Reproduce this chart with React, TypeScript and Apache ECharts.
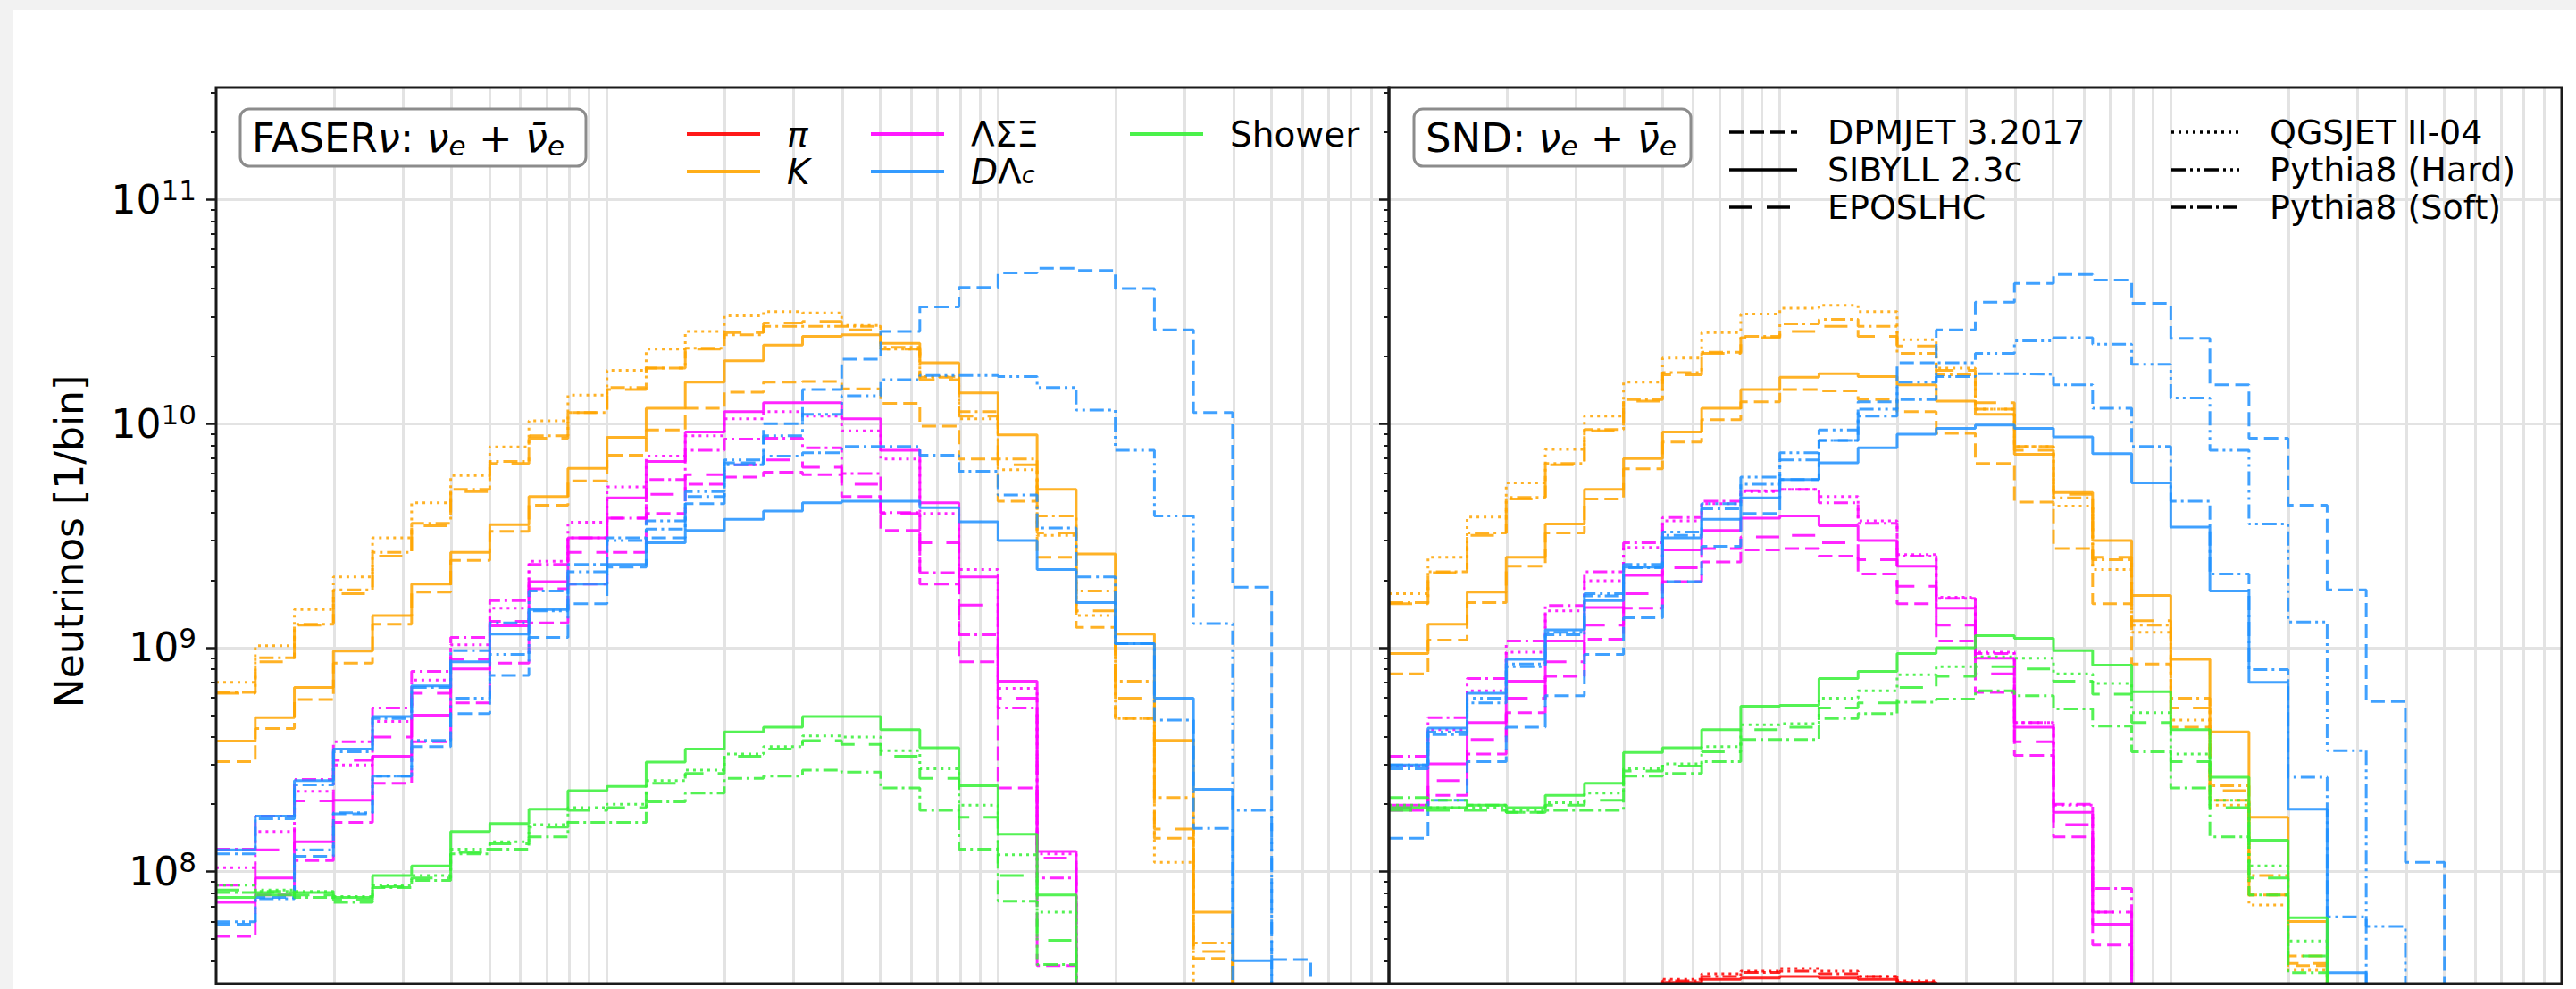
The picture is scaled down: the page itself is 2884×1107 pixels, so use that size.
import React, { useEffect, useRef } from 'react';
import * as echarts from 'echarts';

const W = 2884;
const H = 1107;
const FONT = "'DejaVu Sans', 'Liberation Sans', sans-serif";

// frame geometry (px)
const FRAME_TOP = 98;
const FRAME_H = 1003;
const FRAME_W = 1313;
const LEFT_X = 242;
const RIGHT_X = 1555;

// energy bin edges [GeV], 10 bins per decade
const BIN_EDGES = [10, 12.59, 15.85, 19.95, 25.12, 31.62, 39.81, 50.12, 63.1, 79.43,
  100, 125.9, 158.5, 199.5, 251.2, 316.2, 398.1, 501.2, 631, 794.3,
  1000, 1259, 1585, 1995, 2512, 3162, 3981, 5012, 6310, 7943, 10000];
const N_BINS = 30;

const X_MIN = 10;
const X_MAX = 10000;
const Y_MIN = 3.1623e7;
const Y_MAX = 3.1623e11;

const X_GRID_VALUES = [20, 30, 40, 50, 60, 70, 80, 90, 100, 200, 300, 400, 500, 600, 700, 800, 900,
  1000, 2000, 3000, 4000, 5000, 6000, 7000, 8000, 9000];
const Y_MAJOR_TICKS = [1e8, 1e9, 1e10, 1e11];
const Y_MINOR_TICKS = [4e7, 5e7, 6e7, 7e7, 8e7, 9e7, 2e8, 3e8, 4e8, 5e8, 6e8, 7e8, 8e8, 9e8,
  2e9, 3e9, 4e9, 5e9, 6e9, 7e9, 8e9, 9e9, 2e10, 3e10, 4e10, 5e10, 6e10, 7e10, 8e10, 9e10, 2e11, 3e11];

// ---------------- FASERnu : nu_e + nubar_e ----------------
const FASER_K_DPMJET = [3.1e8, 4.35e8, 5.86e8, 8.53e8, 1.27e9, 1.77e9, 2.45e9, 3.3e9, 4.32e9, 5.55e9, 7.23e9, 9.37e9, 1.17e10, 1.38e10, 1.53e10, 1.54e10, 1.43e10, 1.23e10, 9.75e9, 6.95e9, 4.5e9, 2.53e9, 1.23e9, 4.82e8, 1.41e8, 4.1e7];
const FASER_K_SIBYLL = [3.83e8, 4.87e8, 6.64e8, 9.66e8, 1.39e9, 1.92e9, 2.66e9, 3.54e9, 4.73e9, 6.31e9, 8.69e9, 1.17e10, 1.53e10, 1.91e10, 2.24e10, 2.45e10, 2.49e10, 2.28e10, 1.87e10, 1.37e10, 8.91e9, 5.09e9, 2.62e9, 1.15e9, 3.85e8, 6.6e7];
const FASER_K_EPOS = [6.25e8, 8.65e8, 1.26e9, 1.74e9, 2.56e9, 3.5e9, 4.97e9, 6.64e9, 8.6e9, 1.12e10, 1.42e10, 1.77e10, 2.15e10, 2.55e10, 2.81e10, 2.86e10, 2.62e10, 2.15e10, 1.57e10, 1.08e10, 6.54e9, 3.25e9, 1.46e9, 5.95e8, 1.55e8, 4.4e7];
const FASER_K_QGSJET = [7.0e8, 1.02e9, 1.48e9, 2.07e9, 3.09e9, 4.43e9, 5.86e9, 7.87e9, 1.03e10, 1.34e10, 1.73e10, 2.15e10, 2.58e10, 3.03e10, 3.16e10, 3.12e10, 2.74e10, 2.15e10, 1.62e10, 1.05e10, 6.22e9, 3.17e9, 1.39e9, 4.82e8, 1.1e8];
const FASER_K_PYSOFT = [6.31e8, 9.0e8, 1.27e9, 1.81e9, 2.66e9, 3.59e9, 5.09e9, 6.78e9, 8.83e9, 1.12e10, 1.45e10, 1.77e10, 2.17e10, 2.49e10, 2.72e10, 2.72e10, 2.72e10, 2.19e10, 1.61e10, 1.13e10, 6.95e9, 3.87e9, 1.79e9, 7.08e8, 2.14e8, 4.8e7];

const FASER_L_DPMJET = [5.14e7, 7.87e7, 1.12e8, 1.66e8, 2.48e8, 3.8e8, 5.66e8, 8.53e8, 1.29e9, 1.92e9, 2.66e9, 3.97e9, 5.36e9, 5.77e9, 6.07e9, 5.92e9, 4.73e9, 3.33e9, 1.92e9, 8.65e8, 2.36e8, 3.81e7];
const FASER_L_SIBYLL = [7.3e7, 9.37e7, 1.36e8, 2.08e8, 3.27e8, 4.99e8, 8.03e8, 1.25e9, 1.97e9, 3.09e9, 4.66e9, 6.78e9, 9.18e9, 1.13e10, 1.24e10, 1.24e10, 1.05e10, 7.6e9, 4.43e9, 2.07e9, 7.08e8, 1.23e8];
const FASER_L_EPOS = [8.7e7, 1.25e8, 2.07e8, 3.14e8, 3.99e8, 6.25e8, 8.87e8, 1.31e9, 1.83e9, 2.66e9, 3.78e9, 4.84e9, 5.92e9, 6.54e9, 6.88e9, 6.38e9, 5.36e9, 3.97e9, 2.94e9, 1.55e9, 5.95e8, 1.15e8];
const FASER_L_QGSJET = [1.04e8, 1.51e8, 2.28e8, 2.99e8, 4.68e8, 7.16e8, 1.03e9, 1.5e9, 2.43e9, 3.63e9, 5.22e9, 7.16e9, 8.83e9, 1.05e10, 1.13e10, 1.08e10, 9.28e9, 6.95e9, 3.97e9, 2.23e9, 6.58e8, 1.2e8];
const FASER_L_PYSOFT = [1.26e8, 1.77e8, 2.58e8, 3.8e8, 5.38e8, 7.83e8, 1.11e9, 1.62e9, 2.35e9, 3.09e9, 3.78e9, 5.63e9, 7.6e9, 8.53e9, 8.6e9, 7.8e9, 5.98e9, 4.01e9, 2.16e9, 1.14e9, 5.38e8, 9.37e7];

const FASER_D_DPMJET = [5.83e7, 7.67e7, 1.17e8, 1.81e8, 2.67e8, 3.61e8, 5.07e8, 7.52e8, 1.11e9, 1.57e9, 2.29e9, 3.09e9, 4.39e9, 6.68e9, 1.0e10, 1.42e10, 1.94e10, 2.58e10, 3.32e10, 4.05e10, 4.7e10, 4.94e10, 4.82e10, 4.01e10, 2.62e10, 1.12e10, 1.86e9, 4.05e7];
const FASER_D_SIBYLL = [1.25e8, 1.77e8, 2.55e8, 3.52e8, 4.92e8, 6.75e8, 8.65e8, 1.15e9, 1.48e9, 1.92e9, 2.35e9, 2.94e9, 3.33e9, 3.74e9, 4.07e9, 4.43e9, 4.5e9, 4.5e9, 4.21e9, 3.65e9, 3.01e9, 2.23e9, 1.59e9, 1.04e9, 5.95e8, 2.33e8, 4.01e7];
const FASER_D_PYHARD = [5.97e7, 7.56e7, 1.25e8, 1.83e8, 2.67e8, 3.85e8, 5.95e8, 9.33e8, 1.46e9, 2.18e9, 3.01e9, 3.68e9, 4.97e9, 6.88e9, 8.83e9, 1.1e10, 1.33e10, 1.57e10, 1.64e10, 1.64e10, 1.62e10, 1.45e10, 1.15e10, 7.6e9, 3.87e9, 1.28e9, 1.88e8];
const FASER_D_PYSOFT = [1.2e8, 1.72e8, 2.44e8, 3.43e8, 4.82e8, 6.64e8, 9.7e8, 1.29e9, 1.79e9, 2.35e9, 3.09e9, 3.38e9, 4.73e9, 6.54e9, 7.16e9, 7.41e9, 7.9e9, 7.9e9, 7.23e9, 6.13e9, 4.8e9, 3.42e9, 2.07e9, 1.04e9, 4.75e8, 1.56e8];

const FASER_S_SIBYLL = [7.67e7, 7.87e7, 8.07e7, 7.67e7, 9.6e7, 1.06e8, 1.51e8, 1.64e8, 1.9e8, 2.3e8, 2.4e8, 3.08e8, 3.52e8, 4.2e8, 4.41e8, 4.92e8, 4.92e8, 4.3e8, 3.57e8, 2.42e8, 1.47e8, 7.87e7];
const FASER_S_QGSJET = [8.7e7, 8.28e7, 8.16e7, 7.75e7, 8.7e7, 9.6e7, 1.26e8, 1.36e8, 1.62e8, 1.93e8, 2.0e8, 2.55e8, 2.84e8, 3.35e8, 3.61e8, 4.03e8, 3.99e8, 3.47e8, 2.88e8, 1.98e8, 1.19e8, 6.6e7];
const FASER_S_EPOS = [8.28e7, 8.07e7, 7.87e7, 7.48e7, 8.57e7, 9.37e7, 1.22e8, 1.33e8, 1.58e8, 1.88e8, 1.93e8, 2.48e8, 2.74e8, 3.27e8, 3.52e8, 3.84e8, 3.7e8, 3.27e8, 2.61e8, 1.75e8, 9.6e7, 4.94e7];
const FASER_S_PYSOFT = [8.07e7, 8.16e7, 7.67e7, 7.3e7, 8.48e7, 9.14e7, 1.2e8, 1.26e8, 1.43e8, 1.66e8, 1.66e8, 2.05e8, 2.24e8, 2.61e8, 2.67e8, 2.84e8, 2.78e8, 2.36e8, 1.88e8, 1.26e8, 7.38e7, 3.85e7];

// ---------------- SND : nu_e + nubar_e ----------------
const SND_PI_SIBYLL = [null, null, null, null, null, null, null, 3.2e7, 3.3e7, 3.35e7, 3.4e7, 3.35e7, 3.3e7, 3.2e7];
const SND_PI_QGSJET = [null, null, null, null, null, null, null, 3.3e7, 3.5e7, 3.6e7, 3.7e7, 3.6e7, 3.4e7, 3.25e7];
const SND_PI_PYSOFT = [null, null, null, null, null, null, null, 3.25e7, 3.4e7, 3.55e7, 3.6e7, 3.5e7, 3.4e7, 3.2e7];

const SND_K_DPMJET = [7.64e8, 1.08e9, 1.59e9, 2.31e9, 3.25e9, 4.61e9, 6.28e9, 8.28e9, 1.04e10, 1.25e10, 1.42e10, 1.4e10, 1.28e10, 1.13e10, 9.06e9, 6.64e9, 4.46e9, 2.77e9, 1.57e9, 8.44e8, 4.41e8, 2.08e8, 7.87e7, 3.81e7];
const SND_K_SIBYLL = [9.42e8, 1.27e9, 1.77e9, 2.53e9, 3.56e9, 5.09e9, 6.98e9, 9.18e9, 1.17e10, 1.42e10, 1.61e10, 1.67e10, 1.62e10, 1.49e10, 1.26e10, 1.1e10, 7.3e9, 4.92e9, 3.01e9, 1.71e9, 8.87e8, 4.2e8, 1.75e8, 5.98e7];
const SND_K_EPOS = [1.57e9, 2.16e9, 3.17e9, 4.61e9, 6.54e9, 9.28e9, 1.26e10, 1.65e10, 2.06e10, 2.42e10, 2.58e10, 2.72e10, 2.45e10, 2.22e10, 1.73e10, 1.24e10, 7.6e9, 4.84e9, 2.53e9, 1.32e9, 5.38e8, 2.3e8, 7.87e7, 3.9e7];
const SND_K_QGSJET = [1.74e9, 2.53e9, 3.83e9, 5.44e9, 7.67e9, 1.08e10, 1.53e10, 1.96e10, 2.55e10, 3.08e10, 3.27e10, 3.37e10, 3.16e10, 2.37e10, 1.77e10, 1.16e10, 7.91e9, 4.28e9, 2.23e9, 1.17e9, 4.75e8, 1.98e8, 7.1e7, 3.63e7];
const SND_K_PYSOFT = [1.59e9, 2.18e9, 3.25e9, 4.68e9, 6.64e9, 9.42e9, 1.28e10, 1.69e10, 2.08e10, 2.45e10, 2.79e10, 2.92e10, 2.72e10, 2.06e10, 1.65e10, 1.16e10, 7.9e9, 4.66e9, 2.47e9, 1.26e9, 5.95e8, 2.42e8, 9.6e7, 4.2e7];

const SND_L_DPMJET = [1.88e8, 2.19e8, 3.35e8, 5.12e8, 7.45e8, 1.09e9, 1.5e9, 1.97e9, 2.41e9, 2.73e9, 2.77e9, 2.56e9, 2.13e9, 1.57e9, 1.07e9, 6.31e8, 3.3e8, 1.43e8, 4.7e7];
const SND_L_SIBYLL = [1.98e8, 3.03e8, 4.63e8, 7.08e8, 1.07e9, 1.51e9, 2.1e9, 2.73e9, 3.33e9, 3.78e9, 3.87e9, 3.5e9, 3.01e9, 2.31e9, 1.5e9, 8.96e8, 4.41e8, 1.84e8, 5.83e7];
const SND_L_EPOS = [1.93e8, 2.55e8, 3.89e8, 5.95e8, 8.65e8, 1.26e9, 1.74e9, 2.27e9, 2.77e9, 3.12e9, 3.17e9, 2.94e9, 2.47e9, 1.88e9, 1.26e9, 7.64e8, 3.8e8, 1.62e8, 6.6e7];
const SND_L_QGSJET = [2.96e8, 4.3e8, 6.41e8, 9.55e8, 1.46e9, 1.99e9, 2.8e9, 3.68e9, 4.39e9, 4.97e9, 5.09e9, 4.73e9, 3.68e9, 2.6e9, 1.68e9, 9.55e8, 4.63e8, 1.98e8, 6.6e7];
const SND_L_PYSOFT = [3.27e8, 4.87e8, 7.27e8, 1.07e9, 1.54e9, 2.18e9, 2.94e9, 3.81e9, 4.5e9, 5.02e9, 5.09e9, 4.43e9, 3.59e9, 2.56e9, 1.66e9, 9.42e8, 4.63e8, 2.0e8, 8.4e7];

const SND_D_DPMJET = [1.41e8, 2.08e8, 3.1e8, 4.41e8, 6.1e8, 9.33e8, 1.36e9, 1.97e9, 2.83e9, 3.97e9, 5.63e9, 8.4e9, 1.25e10, 1.87e10, 2.62e10, 3.48e10, 4.22e10, 4.63e10, 4.37e10, 3.44e10, 2.4e10, 1.49e10, 8.6e9, 4.32e9, 1.81e9, 5.74e8, 1.1e8];
const SND_D_SIBYLL = [2.99e8, 4.37e8, 6.25e8, 8.87e8, 1.2e9, 1.62e9, 2.29e9, 3.09e9, 3.74e9, 4.66e9, 5.63e9, 6.68e9, 7.8e9, 8.96e9, 9.51e9, 9.85e9, 9.51e9, 8.73e9, 7.34e9, 5.44e9, 3.45e9, 1.79e9, 7.0e8, 1.9e8, 3.54e7];
const SND_D_PYHARD = [2.99e8, 4.2e8, 5.95e8, 8.44e8, 1.17e9, 1.74e9, 2.35e9, 3.28e9, 4.39e9, 5.77e9, 7.41e9, 9.37e9, 1.16e10, 1.53e10, 1.87e10, 2.06e10, 2.34e10, 2.42e10, 2.26e10, 1.84e10, 1.3e10, 7.6e9, 3.56e9, 1.3e9, 3.47e8, 5.69e7];
const SND_D_PYSOFT = [2.88e8, 4.09e8, 5.66e8, 8.22e8, 1.14e9, 1.7e9, 2.27e9, 3.17e9, 4.17e9, 5.36e9, 6.88e9, 8.4e9, 1.08e10, 1.28e10, 1.62e10, 1.67e10, 1.66e10, 1.49e10, 1.17e10, 7.9e9, 4.5e9, 2.13e9, 7.98e8, 2.64e8, 6.28e7];

const SND_S_SIBYLL = [1.93e8, 1.93e8, 1.98e8, 1.93e8, 2.19e8, 2.48e8, 3.4e8, 3.57e8, 4.3e8, 5.47e8, 5.53e8, 7.27e8, 7.83e8, 9.42e8, 1.0e9, 1.13e9, 1.1e9, 9.7e8, 8.36e8, 6.35e8, 4.3e8, 2.64e8, 1.38e8, 6.22e7];
const SND_S_QGSJET = [1.98e8, 1.93e8, 1.93e8, 1.88e8, 2.03e8, 2.24e8, 2.88e8, 3.03e8, 3.61e8, 4.52e8, 4.58e8, 5.95e8, 6.41e8, 7.57e8, 8.22e8, 9.1e8, 8.96e8, 7.64e8, 6.92e8, 5.12e8, 3.35e8, 2.08e8, 1.06e8, 4.9e7];
const SND_S_EPOS = [1.88e8, 1.88e8, 1.88e8, 1.84e8, 1.98e8, 2.08e8, 2.81e8, 2.96e8, 3.43e8, 4.3e8, 4.41e8, 5.38e8, 5.66e8, 6.64e8, 7.45e8, 8.22e8, 8.03e8, 7.08e8, 6.19e8, 4.63e8, 3.1e8, 1.93e8, 9.37e7, 4.2e7];
const SND_S_PYSOFT = [2.14e8, 2.08e8, 1.98e8, 1.84e8, 1.88e8, 1.88e8, 2.67e8, 2.74e8, 3.1e8, 3.89e8, 3.89e8, 4.82e8, 5.07e8, 5.71e8, 5.89e8, 6.41e8, 6.1e8, 5.33e8, 4.46e8, 3.43e8, 2.36e8, 1.43e8, 7.87e7, 3.54e7];

// empty bins fall to zero, i.e. below the frame
const EMPTY_BIN = 1;

const COLORS: Record<string, string> = {
  pi: '#ff0000',
  K: '#ffa500',
  L: '#ff00ff',
  D: '#1e90ff',
  S: '#36f036',
};

const DASH: Record<string, any> = {
  DPMJET: [16, 7],
  SIBYLL: 'solid',
  EPOS: [26, 16],
  QGSJET: [3, 5],
  PYHARD: [16, 5, 3, 5, 3, 5],
  PYSOFT: [16, 5, 3, 5],
};

type Spec = [number, string, string, (number | null)[]];
const SPECS: Spec[] = [
  [0, 'K', 'DPMJET', FASER_K_DPMJET], [0, 'K', 'SIBYLL', FASER_K_SIBYLL], [0, 'K', 'EPOS', FASER_K_EPOS],
  [0, 'K', 'QGSJET', FASER_K_QGSJET], [0, 'K', 'PYSOFT', FASER_K_PYSOFT],
  [0, 'L', 'DPMJET', FASER_L_DPMJET], [0, 'L', 'SIBYLL', FASER_L_SIBYLL], [0, 'L', 'EPOS', FASER_L_EPOS],
  [0, 'L', 'QGSJET', FASER_L_QGSJET], [0, 'L', 'PYSOFT', FASER_L_PYSOFT],
  [0, 'D', 'DPMJET', FASER_D_DPMJET], [0, 'D', 'SIBYLL', FASER_D_SIBYLL], [0, 'D', 'PYHARD', FASER_D_PYHARD],
  [0, 'D', 'PYSOFT', FASER_D_PYSOFT],
  [0, 'S', 'SIBYLL', FASER_S_SIBYLL], [0, 'S', 'QGSJET', FASER_S_QGSJET], [0, 'S', 'EPOS', FASER_S_EPOS],
  [0, 'S', 'PYSOFT', FASER_S_PYSOFT],
  [1, 'pi', 'SIBYLL', SND_PI_SIBYLL], [1, 'pi', 'QGSJET', SND_PI_QGSJET], [1, 'pi', 'PYSOFT', SND_PI_PYSOFT],
  [1, 'K', 'DPMJET', SND_K_DPMJET], [1, 'K', 'SIBYLL', SND_K_SIBYLL], [1, 'K', 'EPOS', SND_K_EPOS],
  [1, 'K', 'QGSJET', SND_K_QGSJET], [1, 'K', 'PYSOFT', SND_K_PYSOFT],
  [1, 'L', 'DPMJET', SND_L_DPMJET], [1, 'L', 'SIBYLL', SND_L_SIBYLL], [1, 'L', 'EPOS', SND_L_EPOS],
  [1, 'L', 'QGSJET', SND_L_QGSJET], [1, 'L', 'PYSOFT', SND_L_PYSOFT],
  [1, 'D', 'DPMJET', SND_D_DPMJET], [1, 'D', 'SIBYLL', SND_D_SIBYLL], [1, 'D', 'PYHARD', SND_D_PYHARD],
  [1, 'D', 'PYSOFT', SND_D_PYSOFT],
  [1, 'S', 'SIBYLL', SND_S_SIBYLL], [1, 'S', 'QGSJET', SND_S_QGSJET], [1, 'S', 'EPOS', SND_S_EPOS],
  [1, 'S', 'PYSOFT', SND_S_PYSOFT],
];

function stepPoints(values: (number | null)[]) {
  const pts: number[][] = [];
  for (let i = 0; i < N_BINS; i++) {
    const v = values[i];
    pts.push([BIN_EDGES[i], v == null ? EMPTY_BIN : v]);
  }
  pts.push([BIN_EDGES[N_BINS], pts[N_BINS - 1][1]]);
  return pts;
}

const RICH_G: any = {
  n: { fontFamily: FONT, fontSize: 39, lineHeight: 34, verticalAlign: 'middle', fill: '#000' },
  i: { fontFamily: FONT, fontSize: 39, fontStyle: 'italic', lineHeight: 34, verticalAlign: 'middle', fill: '#000' },
  s: { fontFamily: FONT, fontSize: 27, fontStyle: 'italic', lineHeight: 18, verticalAlign: 'bottom', fill: '#000' },
  bn: { fontFamily: FONT, fontSize: 45, lineHeight: 48, verticalAlign: 'middle', fill: '#000' },
  bi: { fontFamily: FONT, fontSize: 45, fontStyle: 'italic', lineHeight: 48, verticalAlign: 'middle', fill: '#000' },
  bs: { fontFamily: FONT, fontSize: 31, fontStyle: 'italic', lineHeight: 30, verticalAlign: 'bottom', fill: '#000' },
};

const NU = '\u03BD';
const NUBAR = '\u03BD\u0304';

function buildOption() {
  const grids = [LEFT_X, RIGHT_X].map((left) => ({
    left, top: FRAME_TOP, width: FRAME_W, height: FRAME_H,
    containLabel: false, outerBoundsMode: 'none', show: false,
  }));

  const tickLine = { color: '#1a1a1a', width: 2.5 };
  const gridLine = { color: '#e3e3e3', width: 3 };

  const xAxis = [0, 1].map((g) => ({
    type: 'log', logBase: 10, gridIndex: g, min: X_MIN, max: X_MAX,
    axisLine: { show: false },
    axisTick: { show: false, customValues: X_GRID_VALUES },
    axisLabel: { show: false },
    splitLine: { show: true, lineStyle: gridLine },
  }));

  const yAxis: any[] = [];
  [0, 1].forEach((g) => {
    yAxis.push({
      type: 'log', logBase: 10, gridIndex: g, min: Y_MIN, max: Y_MAX, position: 'left',
      axisLine: { show: false },
      axisTick: { show: true, inside: false, length: 11, customValues: Y_MAJOR_TICKS, lineStyle: tickLine },
      axisLabel: {
        show: g === 0, customValues: Y_MAJOR_TICKS, margin: 22,
        formatter: (v: number) => `{b|10}{s|${Math.round(Math.log10(v))}}`,
        rich: {
          b: { fontFamily: FONT, fontSize: 44, lineHeight: 52, verticalAlign: 'middle', color: '#000' },
          s: { fontFamily: FONT, fontSize: 31, lineHeight: 31, verticalAlign: 'top', color: '#000' },
        },
      },
      splitLine: { show: true, lineStyle: gridLine },
    });
    yAxis.push({
      type: 'log', logBase: 10, gridIndex: g, min: Y_MIN, max: Y_MAX, position: 'left',
      axisLine: { show: false },
      axisTick: { show: true, inside: false, length: 6, customValues: Y_MINOR_TICKS, lineStyle: { color: '#1a1a1a', width: 2 } },
      axisLabel: { show: false },
      splitLine: { show: false },
    });
  });

  const series = SPECS.map(([panel, parent, gen, vals]) => ({
    type: 'line',
    name: `${panel}-${parent}-${gen}`,
    xAxisIndex: panel,
    yAxisIndex: panel * 2,
    step: 'end',
    data: stepPoints(vals),
    symbol: 'none',
    showSymbol: false,
    silent: true,
    clip: true,
    z: 3,
    emphasis: { disabled: true },
    lineStyle: { color: COLORS[parent], width: 3, type: DASH[gen], opacity: 0.85, cap: 'butt' },
  }));

  const graphic: any[] = [];
  // frames
  [LEFT_X, RIGHT_X].forEach((x) => {
    graphic.push({
      type: 'rect', silent: true, z: 100,
      shape: { x, y: FRAME_TOP, width: FRAME_W, height: FRAME_H },
      style: { fill: 'none', stroke: '#1a1a1a', lineWidth: 3 },
    });
  });
  // y axis title
  graphic.push({
    type: 'text', silent: true, z: 100, x: 77, y: 606, rotation: Math.PI / 2,
    style: { text: 'Neutrinos [1/bin]', fontFamily: FONT, fontSize: 44, fill: '#000', align: 'center', verticalAlign: 'middle' },
  });
  // detector boxes
  const boxes = [
    { x: 269, w: 387, text: `{bn|FASER}{bi|${NU}}{bn|: }{bi|${NU}}{bs|e}{bn| + }{bi|${NUBAR}}{bs|e}` },
    { x: 1583, w: 310, text: `{bn|SND: }{bi|${NU}}{bs|e}{bn| + }{bi|${NUBAR}}{bs|e}` },
  ];
  boxes.forEach((b) => {
    graphic.push({
      type: 'rect', silent: true, z: 101,
      shape: { x: b.x, y: 122, width: b.w, height: 64, r: 10 },
      style: { fill: '#fff', stroke: '#8c8c8c', lineWidth: 3 },
    });
    graphic.push({
      type: 'text', silent: true, z: 102, x: b.x + 13, y: 154,
      style: { text: b.text, rich: RICH_G, align: 'left', verticalAlign: 'middle' },
    });
  });
  // parent legend
  const plain = (t: string, italic: boolean) => ({
    text: t, fontFamily: FONT, fontSize: 39, fontStyle: italic ? 'italic' : 'normal', lineHeight: 34,
    fill: '#000', align: 'left', verticalAlign: 'middle',
  });
  const parentLegend = [
    { c: 'pi', x: 769, y: 150, style: plain('\u03C0', true) },
    { c: 'K', x: 769, y: 192, style: plain('K', true) },
    { c: 'L', x: 975, y: 150, style: plain('\u039B\u03A3\u039E', false) },
    { c: 'D', x: 975, y: 192, style: { text: '{i|D}{n|\u039B}{s|c}', rich: RICH_G, lineHeight: 34, align: 'left', verticalAlign: 'middle' } },
    { c: 'S', x: 1265, y: 150, style: plain('Shower', false) },
  ];
  parentLegend.forEach((e) => {
    graphic.push({
      type: 'line', silent: true, z: 101,
      shape: { x1: e.x, y1: e.y, x2: e.x + 82, y2: e.y },
      style: { stroke: COLORS[e.c], lineWidth: 4, opacity: 0.9 },
    });
    graphic.push({
      type: 'text', silent: true, z: 101, x: e.x + 112, y: e.y,
      style: e.style,
    });
  });
  // generator legend
  const genLegend = [
    { g: 'DPMJET', x: 1936, y: 148, t: 'DPMJET 3.2017' },
    { g: 'SIBYLL', x: 1936, y: 190, t: 'SIBYLL 2.3c' },
    { g: 'EPOS', x: 1936, y: 232, t: 'EPOSLHC' },
    { g: 'QGSJET', x: 2431, y: 148, t: 'QGSJET II-04' },
    { g: 'PYHARD', x: 2431, y: 190, t: 'Pythia8 (Hard)' },
    { g: 'PYSOFT', x: 2431, y: 232, t: 'Pythia8 (Soft)' },
  ];
  genLegend.forEach((e) => {
    const d = DASH[e.g];
    graphic.push({
      type: 'line', silent: true, z: 101,
      shape: { x1: e.x, y1: e.y, x2: e.x + 76, y2: e.y },
      style: { stroke: '#000', lineWidth: 3.5, lineDash: d === 'solid' ? null : d },
    });
    graphic.push({
      type: 'text', silent: true, z: 101, x: e.x + 110, y: e.y,
      style: { text: e.t, fontFamily: FONT, fontSize: 38, lineHeight: 34, fill: '#000', align: 'left', verticalAlign: 'middle' },
    });
  });

  return {
    animation: false,
    backgroundColor: 'transparent',
    textStyle: { fontFamily: FONT },
    grid: grids,
    xAxis,
    yAxis,
    series,
    graphic,
  };
}

export default function App() {
  const ref = useRef<HTMLDivElement>(null);
  useEffect(() => {
    if (!ref.current) return;
    const chart = echarts.init(ref.current, null, { renderer: 'svg', width: W, height: H });
    chart.setOption(buildOption() as any);
    return () => chart.dispose();
  }, []);
  return (
    <div style={{ position: 'absolute', left: 0, top: 0, width: W, height: H, background: '#f2f2f2', overflow: 'hidden' }}>
      <div style={{ position: 'absolute', left: 14, top: 11, right: 0, bottom: 0, background: '#ffffff' }} />
      <div ref={ref} style={{ position: 'absolute', left: 0, top: 0, width: W, height: H }} />
    </div>
  );
}
